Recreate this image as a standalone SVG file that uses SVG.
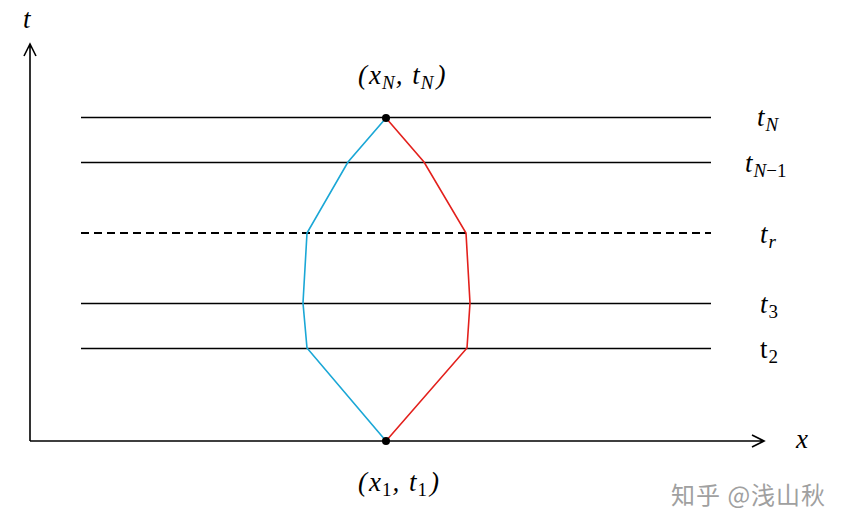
<svg xmlns="http://www.w3.org/2000/svg" width="852" height="532" viewBox="0 0 852 532">
<style>
.ax{stroke:#000;stroke-width:1.6;fill:none}
.hl{stroke:#000;stroke-width:1.3;fill:none}
.ds{stroke:#000;stroke-width:2;stroke-dasharray:8,5;fill:none}
.lb{font-family:"Liberation Serif","DejaVu Serif",serif;font-size:27px;font-style:italic;fill:#000}
.sb{font-size:19px}
.up{font-style:normal}
.wm{font-family:"Noto Sans CJK SC",sans-serif;font-size:24px;letter-spacing:1px;fill:#a0a0a0}
</style>
<rect width="852" height="532" fill="#fff"/>
<g id="axes">
<path class="ax" d="M30,441 V44 M24,56 L30,44 L36,56"/>
<path class="ax" d="M30,441 H764 M752,435 L764,441 L752,447"/>
<text class="lb" x="23" y="28">t</text>
<text class="lb" x="796" y="448">x</text>
</g>
<g id="levels">
<line class="hl" x1="81" y1="117.5" x2="711" y2="117.5"/>
<line class="hl" x1="81" y1="162.5" x2="711" y2="162.5"/>
<line class="ds" x1="81" y1="233" x2="711" y2="233"/>
<line class="hl" x1="81" y1="303.5" x2="711" y2="303.5"/>
<line class="hl" x1="81" y1="348.5" x2="711" y2="348.5"/>
<text class="lb" x="757" y="126">t<tspan class="sb" dy="5" dx="1">N</tspan></text>
<text class="lb" x="745" y="172">t<tspan class="sb" dy="5" dx="1">N</tspan><tspan class="sb up">−1</tspan></text>
<text class="lb" x="760" y="243">t<tspan class="sb" dy="5" dx="1">r</tspan></text>
<text class="lb" x="760" y="313">t<tspan class="sb up" dy="5" dx="1">3</tspan></text>
<text x="760" y="358" style="font-family:'Liberation Serif',serif;font-size:27px">t<tspan class="sb" dy="5" dx="1">2</tspan></text>
</g>
<g id="connectors">
<polyline points="386,118 348,162 307,233 303,303 307,348 386,441" fill="none" stroke="#1aa7d6" stroke-width="1.6"/>
<polyline points="386,118 424,162 466,233 470,303 467,348 386,441" fill="none" stroke="#e3201c" stroke-width="1.6"/>
</g>
<g id="pN">
<circle cx="386" cy="118" r="4" fill="#000"/>
<text class="lb" x="358" y="84">(<tspan dx="2">x</tspan><tspan class="sb" dy="5" dx="1">N</tspan><tspan dy="-5" dx="1">, </tspan><tspan dx="3">t</tspan><tspan class="sb" dy="5" dx="1">N</tspan><tspan dy="-5" dx="3">)</tspan></text>
</g>
<g id="p1">
<circle cx="386" cy="441" r="4" fill="#000"/>
<text class="lb" x="358" y="491">(<tspan dx="2">x</tspan><tspan class="sb up" dy="5" dx="1">1</tspan><tspan dy="-5" dx="1">, </tspan><tspan dx="3">t</tspan><tspan class="sb up" dy="5" dx="1">1</tspan><tspan dy="-5" dx="3">)</tspan></text>
</g>
<text class="wm" x="671" y="504">知乎 @浅山秋</text>
</svg>
